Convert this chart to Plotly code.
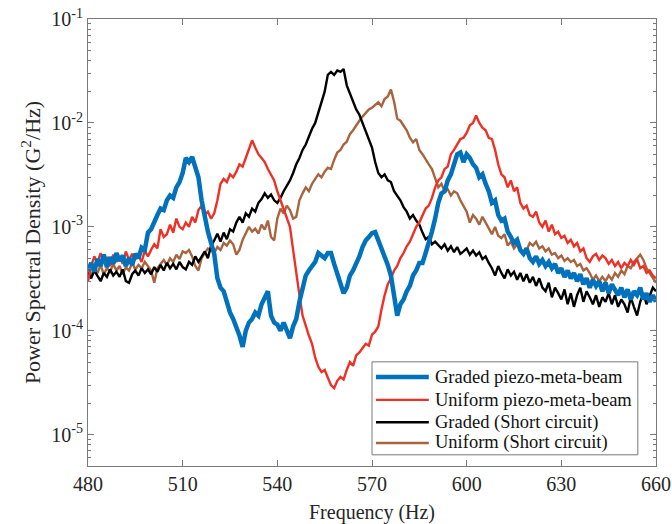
import numpy as np
import plotly.graph_objects as go

# Frequency axis (Hz), 1 Hz spacing
freq = list(range(480, 661))

# PSD values in units of 1e-4 G^2/Hz
psd_unit = 1e-4

graded_piezo = [
    3.8, 4.5, 3.7, 4.9, 4.2, 5.4, 4.1, 5.1, 4.4, 5.6,
    4.7, 5.3, 4.2, 5.0, 4.3, 5.5, 5.0, 6.3, 6.0, 8.8,
    9.5, 11.5, 13.0, 15.0, 14.5, 18.0, 20.0, 19.0, 24.0, 27.0,
    33.0, 46.0, 42.0, 47.0, 36.0, 30.0, 18.0, 12.0, 9.0, 7.0,
    5.5, 3.2, 2.6, 2.4, 1.9, 1.5, 1.3, 1.1, 0.9, 0.7,
    1.0, 1.2, 1.3, 1.5, 1.4, 1.8, 2.1, 2.4, 1.4, 1.2,
    1.15, 1.0, 1.2, 1.0, 0.85, 1.1, 1.3, 1.9, 2.6, 3.4,
    3.8, 4.2, 4.6, 5.6, 5.2, 5.0, 5.6, 5.6, 4.4, 3.6,
    2.8, 2.3, 2.6, 3.4, 3.8, 4.4, 5.2, 6.4, 7.4, 8.0,
    8.7, 8.9, 7.5, 6.2, 5.1, 4.3, 3.4, 2.2, 1.4, 1.8,
    2.0, 2.4, 2.7, 3.4, 3.8, 4.5, 4.5, 5.6, 7.0, 9.0,
    12.0, 17.0, 21.0, 22.0, 28.0, 32.0, 40.0, 50.0, 52.0, 42.0,
    50.0, 46.0, 40.0, 37.0, 30.0, 32.0, 26.0, 22.0, 17.0, 18.0,
    13.0, 11.5, 12.0, 9.0, 8.0, 7.0, 7.5, 6.0, 5.5, 6.2,
    5.0, 4.6, 5.2, 4.4, 4.8, 4.2, 4.6, 4.0, 4.4, 3.6,
    4.0, 3.3, 3.8, 3.2, 3.6, 3.0, 3.5, 2.8, 3.2, 2.6,
    3.1, 2.7, 3.0, 2.4, 2.9, 2.3, 2.8, 2.5, 2.2, 2.6,
    2.1, 2.5, 2.0, 2.4, 2.2, 2.6, 2.0, 2.3, 1.9, 2.2, 1.9,
]

uniform_piezo = [
    3.0, 4.2, 5.2, 4.5, 5.6, 4.6, 5.0, 4.2, 5.4, 4.6,
    5.2, 4.4, 5.8, 4.8, 5.5, 4.9, 5.3, 4.6, 5.9, 5.2,
    6.0, 6.8, 6.2, 9.5, 8.0, 8.5, 10.5, 8.8, 12.0, 10.0,
    9.5, 11.0, 10.0, 12.5, 11.0, 14.5, 16.0, 13.0, 14.0, 12.0,
    13.5, 18.0, 26.0, 29.0, 27.0, 32.0, 30.0, 34.0, 40.0, 38.0,
    46.0, 55.0, 68.0, 58.0, 50.0, 46.0, 42.0, 36.0, 32.0, 28.0,
    22.0, 18.0, 15.0, 12.0, 10.0, 6.0, 3.5, 2.2, 1.4, 1.1,
    0.9, 0.75, 0.55, 0.45, 0.40, 0.42, 0.36, 0.30, 0.28, 0.33,
    0.36, 0.34, 0.42, 0.50, 0.46, 0.58, 0.62, 0.68, 0.75, 0.72,
    0.92, 0.98, 1.1, 1.6, 2.2, 2.8, 3.2, 3.8, 4.2, 5.0,
    5.6, 6.5, 7.2, 8.5, 10.0, 11.0, 13.0, 15.0, 16.0, 19.0,
    24.0, 28.0, 30.0, 36.0, 38.0, 50.0, 55.0, 62.0, 70.0, 72.0,
    80.0, 95.0, 100.0, 118.0, 100.0, 90.0, 85.0, 72.0, 70.0, 55.0,
    40.0, 32.0, 30.0, 24.0, 28.0, 22.0, 24.0, 17.0, 15.0, 16.0,
    13.0, 12.5, 14.0, 11.0, 10.0, 11.5, 9.0, 10.5, 8.5, 9.0,
    7.8, 8.2, 7.0, 7.5, 6.5, 7.0, 5.8, 6.2, 5.0, 4.6,
    5.2, 5.5, 4.8, 5.3, 5.0, 4.4, 4.8, 4.2, 4.6, 4.0,
    4.5, 4.2, 4.8, 4.3, 4.9, 4.0, 4.2, 3.6, 3.8, 3.4, 3.2,
]

graded_short = [
    3.6, 3.2, 3.8, 3.4, 3.0, 3.6, 3.3, 3.9, 3.4, 3.7,
    3.3, 3.9, 3.0, 2.9, 3.5, 3.8, 3.4, 4.0, 3.6, 3.9,
    3.5, 4.1, 3.7, 4.3, 3.8, 4.5, 4.0, 4.4, 3.9, 4.6,
    4.1, 3.9, 4.6, 4.3, 5.2, 4.6, 5.1, 5.8, 5.0, 6.6,
    7.4, 8.6, 7.2, 8.8, 7.6, 9.5, 9.0, 11.0, 12.5, 11.0,
    13.5, 12.5, 15.0, 14.0, 17.0, 18.5, 21.0, 19.0, 20.5, 18.0,
    17.0, 19.0, 22.0, 25.0, 28.0, 33.0, 40.0, 46.0, 55.0, 62.0,
    75.0, 88.0, 100.0, 125.0, 155.0, 200.0, 290.0, 310.0, 290.0, 320.0,
    310.0, 330.0, 230.0, 190.0, 160.0, 135.0, 120.0, 100.0, 85.0, 70.0,
    58.0, 42.0, 33.0, 30.0, 32.0, 28.0, 27.0, 22.0, 20.0, 18.0,
    15.5, 14.0, 12.0, 13.0, 11.5, 10.5, 8.8, 7.6, 8.0, 6.8,
    7.2, 6.6, 6.2, 6.8, 5.9, 6.5, 5.7, 6.4, 5.5, 5.8,
    6.2, 5.4, 5.9, 5.3, 5.7, 4.9, 5.2, 4.5, 4.0, 3.4,
    4.2, 3.6, 3.2, 3.9, 3.4, 3.7, 3.1, 3.6, 3.0, 3.5,
    2.9, 3.3, 2.7, 3.2, 2.6, 2.4, 2.9, 2.1, 2.6, 2.3,
    2.0, 2.5, 1.8, 2.3, 1.7, 2.2, 2.6, 1.9, 2.4, 2.1,
    1.8, 2.2, 1.7, 2.1, 1.9, 2.3, 1.8, 2.2, 1.7, 2.0,
    1.8, 1.5, 2.1, 1.7, 1.4, 1.9, 2.3, 1.8, 2.2, 2.6, 2.4,
]

uniform_short = [
    3.8, 3.4, 4.0, 3.6, 4.3, 3.5, 4.0, 3.7, 4.4, 3.8,
    4.2, 3.5, 4.1, 3.8, 4.5, 3.9, 4.3, 4.0, 4.6, 4.2,
    3.8, 2.9, 4.0, 4.4, 4.8, 4.3, 5.0, 4.6, 5.4, 4.9,
    5.8, 5.6, 6.0, 5.2, 4.2, 3.8, 5.0, 5.6, 6.2, 6.0,
    5.6, 6.4, 6.0, 7.0, 6.6, 7.4, 6.8, 5.4, 6.0, 7.5,
    8.8, 10.0, 9.0, 9.6, 8.6, 10.5, 9.4, 11.5, 8.0, 7.4,
    12.0, 15.0, 13.5, 16.0, 14.5, 12.0, 12.5, 18.0, 21.0, 24.0,
    22.0, 26.0, 29.0, 32.0, 30.0, 34.0, 37.0, 36.0, 44.0, 52.0,
    55.0, 62.0, 66.0, 78.0, 85.0, 95.0, 105.0, 115.0, 125.0, 135.0,
    140.0, 150.0, 158.0, 145.0, 170.0, 180.0, 210.0, 160.0, 110.0, 105.0,
    95.0, 85.0, 72.0, 65.0, 70.0, 55.0, 50.0, 44.0, 40.0, 36.0,
    30.0, 24.0, 26.0, 22.0, 23.0, 20.0, 22.0, 21.0, 18.0, 16.0,
    14.0, 11.0, 13.0, 12.0, 10.5, 12.5, 11.0, 9.5, 8.5, 10.0,
    8.2, 7.8, 8.5, 6.6, 7.2, 6.2, 6.8, 5.8, 5.5, 6.0,
    7.0, 6.6, 7.2, 6.2, 6.5, 5.8, 6.2, 5.4, 5.6, 5.0,
    5.3, 4.7, 5.0, 4.6, 4.8, 4.2, 4.4, 3.8, 4.0, 3.6,
    3.1, 3.4, 3.0, 3.3, 3.0, 3.4, 3.1, 3.6, 3.3, 3.8,
    3.5, 4.2, 4.0, 4.6, 5.0, 5.4, 4.8, 4.0, 3.6, 3.2, 2.9,
]

series_names = [
    "Graded piezo-meta-beam",
    "Uniform piezo-meta-beam",
    "Graded (Short circuit)",
    "Uniform (Short circuit)",
]

x_ticks = [480, 510, 540, 570, 600, 630, 660]
y_ticks = [1e-5, 1e-4, 1e-3, 1e-2, 1e-1]
y_ticktext = ["10<sup>-5</sup>", "10<sup>-4</sup>", "10<sup>-3</sup>",
              "10<sup>-2</sup>", "10<sup>-1</sup>"]

FONT = "Liberation Serif, Times New Roman, serif"
AXIS_GREY = "#7a7a7a"
TEXT_COLOR = "#262626"

styles = {
    "Graded piezo-meta-beam": dict(color="#0072BD", width=4.5),
    "Uniform piezo-meta-beam": dict(color="#EE3124", width=2.4),
    "Graded (Short circuit)": dict(color="#000000", width=2.4),
    "Uniform (Short circuit)": dict(color="#A8643E", width=2.4),
}
data = {
    "Graded piezo-meta-beam": graded_piezo,
    "Uniform piezo-meta-beam": uniform_piezo,
    "Graded (Short circuit)": graded_short,
    "Uniform (Short circuit)": uniform_short,
}
# back-to-front drawing order
draw_order = [
    "Uniform (Short circuit)",
    "Graded (Short circuit)",
    "Uniform piezo-meta-beam",
    "Graded piezo-meta-beam",
]

fig = go.Figure()
for name in draw_order:
    fig.add_trace(go.Scatter(
        x=freq,
        y=np.array(data[name]) * psd_unit,
        mode="lines",
        name=name,
        line=styles[name],
        showlegend=False,
    ))

# Legend box in the lower right of the axes (paper coordinates)
box_x0, box_x1 = 0.500, 0.968
box_y0, box_y1 = 0.025, 0.233
sample_x0, sample_x1 = 0.507, 0.600
label_x = 0.607
row_y = [0.199, 0.148, 0.098, 0.0515]

fig.add_shape(type="rect", xref="paper", yref="paper",
              x0=box_x0, x1=box_x1, y0=box_y0, y1=box_y1,
              line=dict(color=AXIS_GREY, width=1), fillcolor="white", layer="above")
for name, ry in zip(series_names, row_y):
    fig.add_shape(type="line", xref="paper", yref="paper",
                  x0=sample_x0, x1=sample_x1, y0=ry, y1=ry,
                  line=styles[name], layer="above")
    fig.add_annotation(xref="paper", yref="paper", x=label_x, y=ry,
                       text=name, showarrow=False, xanchor="left", yanchor="middle",
                       font=dict(family=FONT, size=18.5, color="#111111"))

# minor ticks at 2..9 of each decade
minor_vals = [k * 10.0 ** e for e in range(-6, -1) for k in range(2, 10)]

fig.update_layout(
    width=672,
    height=524,
    margin=dict(l=88, r=16, t=19, b=58),
    paper_bgcolor="white",
    plot_bgcolor="white",
    font=dict(family=FONT, size=20, color=TEXT_COLOR),
    showlegend=False,
)

fig.update_xaxes(
    range=[480, 660],
    tickvals=x_ticks,
    ticks="inside", ticklen=6, tickcolor=AXIS_GREY,
    showline=True, linecolor=AXIS_GREY, linewidth=1, mirror="ticks",
    showgrid=False, zeroline=False, automargin=False,
    title=dict(text="Frequency (Hz)", font=dict(family=FONT, size=20), standoff=13),
    tickfont=dict(family=FONT, size=20, color=TEXT_COLOR),
)

fig.update_yaxes(
    type="log",
    range=[np.log10(5e-6), -1],
    tickvals=y_ticks, ticktext=y_ticktext,
    ticks="inside", ticklen=6, tickcolor=AXIS_GREY,
    minor=dict(tickvals=minor_vals, ticks="inside", ticklen=3,
               tickcolor=AXIS_GREY, showgrid=False),
    showline=True, linecolor=AXIS_GREY, linewidth=1, mirror="ticks",
    showgrid=False, zeroline=False, automargin=False,
    title=dict(text="Power Spectral Density (G<sup>2</sup>/Hz)",
               font=dict(family=FONT, size=22), standoff=4),
    tickfont=dict(family=FONT, size=20, color=TEXT_COLOR),
)

fig.write_html("out.html")
